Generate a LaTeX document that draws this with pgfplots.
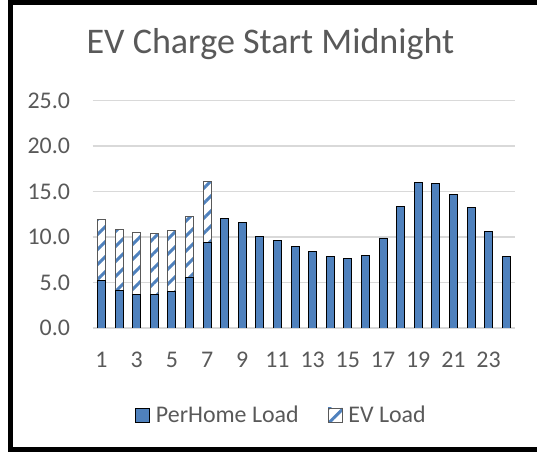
\documentclass[border=0pt]{standalone}
\usepackage{fontspec}
\setmainfont{Carlito}
\usepackage{pgfplots}
\pgfplotsset{compat=1.18}
\usetikzlibrary{patterns.meta}
\definecolor{barblue}{RGB}{79,129,189}
\definecolor{labelgray}{RGB}{89,89,89}
\definecolor{gridgray}{RGB}{217,217,217}
\pgfplotsset{sqlegend/.style={legend image code/.code={\draw[##1] (0bp,-7bp) rectangle (14bp,7bp);}}}
\begin{document}
\begin{tikzpicture}
\useasboundingbox (0,0) rectangle (537bp,452bp);
\begin{axis}[
 at={(92.7bp,124bp)}, anchor=south west, scale only axis,
 width=422.3bp, height=227.5bp,
 xmin=0.5, xmax=24.5, ymin=0, ymax=25,
 ybar stacked, bar width=8bp,
 xtick={1,3,...,23}, ytick={0,5,...,25},
 yticklabel={\pgfmathprintnumber[fixed,fixed zerofill,precision=1]{\tick}},
 /pgf/number format/assume math mode=true,
 ymajorgrids, grid style={draw=gridgray, line width=1.6bp},
 axis line style={draw=none},
 major tick length=0pt,
 tick label style={font=\fontsize{24}{28}\selectfont, text=labelgray, inner sep=0pt},
 yticklabel style={xshift=-22.5bp},
 xticklabel style={yshift=-24bp},
 legend columns=2,
 legend style={at={(0.447,-0.382)}, anchor=center, draw=none, fill=none,
   font=\fontsize{24}{28}\selectfont, text=labelgray,
   /tikz/every odd column/.append style={column sep=4bp},
   /tikz/every even column/.append style={column sep=27bp}},
]
\addplot[fill=barblue, draw=black, line width=0.8bp, sqlegend]
 coordinates {(1,5.2) (2,4.1) (3,3.7) (4,3.7) (5,4.0) (6,5.6) (7,9.4) (8,12.0)
  (9,11.6) (10,10.1) (11,9.6) (12,9.0) (13,8.4) (14,7.9) (15,7.6) (16,8.0)
  (17,9.9) (18,13.4) (19,16.0) (20,15.9) (21,14.7) (22,13.2) (23,10.6) (24,7.9)};
\addplot[preaction={fill=white}, pattern={Lines[angle=45,distance=10.6bp,line width=3bp]},
  pattern color=barblue, draw=black!65, line width=0.8bp, sqlegend]
 coordinates {(1,6.7) (2,6.7) (3,6.8) (4,6.7) (5,6.7) (6,6.7) (7,6.7)};
\legend{PerHome Load, EV Load}
\end{axis}
\node[font=\fontsize{36.2}{43}\selectfont, text=labelgray, anchor=base] at (270.5bp,398.7bp) {EV Charge Start Midnight};
\draw[line width=5bp, line join=miter] (540bp,449.5bp) -- (10.5bp,449.5bp) -- (10.5bp,2bp) -- (540bp,2bp);
\end{tikzpicture}
\end{document}
